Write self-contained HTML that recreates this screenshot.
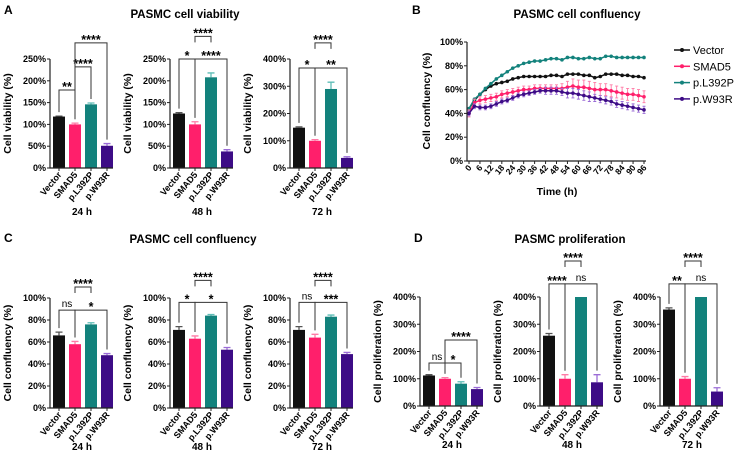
<!DOCTYPE html>
<html><head><meta charset="utf-8"><style>
html,body{margin:0;padding:0;background:#fff;}
svg{display:block;font-family:"Liberation Sans",Arial,sans-serif;}
</style></head><body>
<svg id="fig" width="735" height="454" viewBox="0 0 735 454" xmlns="http://www.w3.org/2000/svg">
<text x="4" y="14" font-size="12" font-weight="bold">A</text>
<text x="185" y="18" font-size="11.5" font-weight="bold" text-anchor="middle">PASMC cell viability</text>
<text x="412" y="14" font-size="12" font-weight="bold">B</text>
<text x="577" y="18" font-size="11.5" font-weight="bold" text-anchor="middle">PASMC cell confluency</text>
<text x="4" y="242" font-size="12" font-weight="bold">C</text>
<text x="193" y="243" font-size="11.5" font-weight="bold" text-anchor="middle">PASMC cell confluency</text>
<text x="414" y="242" font-size="12" font-weight="bold">D</text>
<text x="570" y="243" font-size="11.5" font-weight="bold" text-anchor="middle">PASMC proliferation</text>
</svg>
<script>
const groups = ['Vector','SMAD5','p.L392P','p.W93R'];
const barColors = ['#111111','#ff1f6b','#13827c','#3d0c86'];
const errColors = ['#555555','#ff7aa6','#5fbdb7','#9b6cd6'];

const viability24 = [118,100,146,51];
const viability24Err = [1,3,3,5];
const viability48 = [125,100,208,38];
const viability48Err = [2,6,10,4];
const viability72 = [148,100,290,37];
const viability72Err = [3,4,25,4];
const confluency24 = [66,58,76,48];
const confluency24Err = [3,2.5,1.5,1.5];
const confluency48 = [71,63,84,53];
const confluency48Err = [3,2.5,1,2];
const confluency72 = [71,64,83,49];
const confluency72Err = [3,3,1.5,1.5];
const prolif24 = [112,100,82,62];
const prolif24Err = [3,4,7,6];
const prolif48 = [258,100,400,87];
const prolif48Err = [8,15,0,28];
const prolif72 = [354,100,400,53];
const prolif72Err = [6,8,0,14];

const ticks250 = [0,50,100,150,200,250];
const ticks400 = [0,100,200,300,400];
const ticks100 = [0,20,40,60,80,100];

// brackets: [from, to, level value, label, short]
const sigA24 = [[0,1,179,'**',0],[1,2,232,'****',0],[1,3,287,'****',0]];
const sigA48 = [[0,1,250,'*',0],[1,3,250,'****',0],[1,2,302,'****',1]];
const sigA72 = [[0,1,367,'*',0],[1,3,367,'**',0],[1,2,459,'****',1]];
const sigC24 = [[0,1,89,'ns',0],[1,3,89,'*',0],[1,2,110,'****',1]];
const sigC48 = [[0,1,96,'*',0],[1,3,96,'*',0],[1,2,116,'****',1]];
const sigC72 = [[0,1,96,'ns',0],[1,3,96,'***',0],[1,2,116,'****',1]];
const sigD24 = [[0,1,158,'ns',0],[1,2,158,'*',0],[1,3,242,'****',0]];
const sigD48 = [[0,1,448,'****',0],[1,3,448,'ns',0],[1,2,532,'****',1]];
const sigD72 = [[0,1,448,'**',0],[1,3,448,'ns',0],[1,2,532,'****',1]];

// Panel B time series
const times = [0,3,6,9,12,15,18,21,24,27,30,33,36,39,42,45,48,51,54,57,60,63,66,69,72,75,78,81,84,87,90,93,96];
const vectorSeries = [44,51,56,60,63,65,66,67,69,70,71,71,71,71,71,72,72,71,73,73,73,72,72,70,71,73,73,73,72,72,71,71,70];
const l392pSeries = [44,52,56,61,65,69,72,75,78,80,82,83,84,84,85,86,86,85,87,87,86,86,87,86,86,88,88,87,87,87,87,87,87];
const smad5Series = [40,49,51,52,53,54,56,57,58,59,60,60,61,61,61,61,61,61,62,63,62,62,61,60,60,60,59,58,57,56,56,55,54];
const w93rSeries = [40,46,45,45,46,48,50,51,53,55,56,57,58,59,59,59,59,58,57,57,56,55,54,53,52,51,50,48,47,46,45,44,43];
const smad5Err = [3,3,3,3,3,3,3,3,3,3,3,3,3,3,3,3,3,4,5,6,6,6,6,6,5,5,5,5,5,5,5,5,5];
const w93rErr = [2,2,2,2,2,2,2,2,2,2,2,2,2,2,3,3,3,3,4,4,4,4,4,3,3,3,3,3,3,3,3,3,3];
const timeTicks = [0,6,12,18,24,30,36,42,48,54,60,66,72,78,84,90,96];
const confTicks = [0,20,40,60,80,100];
const legendLabels = ['Vector','SMAD5','p.L392P','p.W93R'];

const svg = document.getElementById('fig');
const NS = 'http://www.w3.org/2000/svg';
function mk(tag, attrs, parent){
  const e = document.createElementNS(NS, tag);
  for (const k in attrs) e.setAttribute(k, attrs[k]);
  (parent||svg).appendChild(e);
  return e;
}

function barChart(id, ax, yTop, yBot, ymax, ticks, vals, errs, sig, yTitle, timeLabel, timeY){
  const g = mk('g', {});
  
  
  const yScale = v => yBot - v / ymax * (yBot - yTop);
  const xScale = i => ax + 9 + i * 16;
  const axEnd = ax + 63;
  vals.forEach((v, i) => {
    const cx = xScale(i);
    const top = yScale(v);
    if (errs[i] > 0) {
      const ey = yScale(v + errs[i]);
      const el = mk('path', {d:`M${cx},${top}V${ey}M${cx-3.5},${ey}H${cx+3.5}`, stroke:errColors[i], 'stroke-width':1.3, fill:'none'}, g);
      
      
    }
    const r = mk('rect', {x:cx-6, y:top, width:12, height:yBot-top, fill:barColors[i]}, g);
    
    
    mk('line', {x1:cx, x2:cx, y1:yBot, y2:yBot+3, stroke:'#222', 'stroke-width':1}, g);
    const t = mk('text', {x:cx+3, y:yBot+7, 'font-size':9, 'font-weight':'bold', 'text-anchor':'end', transform:`rotate(-50 ${cx+3} ${yBot+7})`}, g);
    t.textContent = groups[i];
    
    
  });
  const axes = mk('path', {d:`M${ax},${yTop}V${yBot}H${axEnd}`, stroke:'#222', 'stroke-width':1.2, fill:'none'}, g);
  
  
  ticks.forEach(t => {
    const y = yScale(t);
    mk('line', {x1:ax-3, x2:ax, y1:y, y2:y, stroke:'#222', 'stroke-width':1}, g);
    const tx = mk('text', {x:ax-4, y:y+3, 'font-size':9, 'font-weight':'bold', 'text-anchor':'end'}, g);
    tx.textContent = t + '%';
    
    
  });
  const mid = (yTop + yBot) / 2;
  const yt = mk('text', {x:ax-39, y:mid, 'font-size':10.5, 'font-weight':'bold', 'text-anchor':'middle', transform:`rotate(-90 ${ax-39} ${mid})`}, g);
  yt.textContent = yTitle;
  
  
  const tl = mk('text', {x:ax+32, y:timeY, 'font-size':10, 'font-weight':'bold', 'text-anchor':'middle'}, g);
  tl.textContent = timeLabel;
  
  
  sig.forEach(s => {
    const [a, b, lv, lab, short] = s;
    const x1 = xScale(a), x2 = xScale(b), y = yScale(lv);
    const y1 = short ? y + 6 : yScale(vals[a] + errs[a]) - 4;
    const y2 = short ? y + 6 : yScale(vals[b] + errs[b]) - 4;
    const br = mk('path', {d:`M${x1},${y1}V${y}H${x2}V${y2}`, stroke:'#333', 'stroke-width':1, fill:'none'}, g);
    
    
    const ns = lab === 'ns';
    const lt = mk('text', {x:(x1+x2)/2, y:ns ? y-3 : y+1, 'font-size':ns ? 10 : 12.5, 'font-weight':ns ? 'normal' : 'bold', 'text-anchor':'middle'}, g);
    lt.textContent = lab;
    
    
  });
}

barChart('a-24h', 50, 59, 168, 250, ticks250, viability24, viability24Err, sigA24, 'Cell viability (%)', '24 h', 215);
barChart('a-48h', 170, 59, 168, 250, ticks250, viability48, viability48Err, sigA48, 'Cell viability (%)', '48 h', 215);
barChart('a-72h', 290, 59, 168, 400, ticks400, viability72, viability72Err, sigA72, 'Cell viability (%)', '72 h', 215);
barChart('c-24h', 50, 298, 408, 100, ticks100, confluency24, confluency24Err, sigC24, 'Cell confluency (%)', '24 h', 450);
barChart('c-48h', 170, 298, 408, 100, ticks100, confluency48, confluency48Err, sigC48, 'Cell confluency (%)', '48 h', 450);
barChart('c-72h', 290, 298, 408, 100, ticks100, confluency72, confluency72Err, sigC72, 'Cell confluency (%)', '72 h', 450);
barChart('d-24h', 420, 297, 406, 400, ticks400, prolif24, prolif24Err, sigD24, 'Cell proliferation (%)', '24 h', 448);
barChart('d-48h', 540, 297, 406, 400, ticks400, prolif48, prolif48Err, sigD48, 'Cell proliferation (%)', '48 h', 448);
barChart('d-72h', 660, 297, 406, 400, ticks400, prolif72, prolif72Err, sigD72, 'Cell proliferation (%)', '72 h', 448);

(function(){
  const g = mk('g', {});
  
  
  const x0 = 469, x1 = 644, yT = 42, yB = 161, ax = 467;
  const xs = t => x0 + t / 96 * (x1 - x0);
  const ys = v => yB - v / 100 * (yB - yT);
  const series = [
    [vectorSeries, null, 0, 'vector'],
    [l392pSeries, null, 2, 'l392p'],
    [smad5Series, smad5Err, 1, 'smad5'],
    [w93rSeries, w93rErr, 3, 'w93r']
  ];
  series.forEach(([vals, errs, ci, nm]) => {
    if (errs) {
      let d = '';
      vals.forEach((v, i) => {
        const x = xs(times[i]);
        const a = ys(v + errs[i]), b = ys(v - errs[i]);
        d += `M${x},${a}V${b}M${x-1.5},${a}H${x+1.5}M${x-1.5},${b}H${x+1.5}`;
      });
      const e = mk('path', {d, stroke:errColors[ci], 'stroke-width':0.9, fill:'none'}, g);
      
      
    }
    const pts = vals.map((v, i) => xs(times[i]) + ',' + ys(v)).join(' ');
    const l = mk('polyline', {points:pts, stroke:barColors[ci], 'stroke-width':1.5, fill:'none'}, g);
    
    
    vals.forEach((v, i) => {
      const c = mk('circle', {cx:xs(times[i]), cy:ys(v), r:1.8, fill:barColors[ci]}, g);
      
      
    });
  });
  const axes = mk('path', {d:`M${ax},${yT}V${yB}H${x1+2}`, stroke:'#222', 'stroke-width':1.2, fill:'none'}, g);
  
  
  confTicks.forEach(t => {
    const y = ys(t);
    mk('line', {x1:ax-3, x2:ax, y1:y, y2:y, stroke:'#222'}, g);
    const tx = mk('text', {x:ax-4, y:y+3, 'font-size':9, 'font-weight':'bold', 'text-anchor':'end'}, g);
    tx.textContent = t + '%';
    
    
  });
  timeTicks.forEach(t => {
    const x = xs(t);
    mk('line', {x1:x, x2:x, y1:yB, y2:yB+3, stroke:'#222'}, g);
    const tx = mk('text', {x:x+3, y:yB+7, 'font-size':8.5, 'font-weight':'bold', 'text-anchor':'end', transform:`rotate(-50 ${x+3} ${yB+7})`}, g);
    tx.textContent = t;
    
    
  });
  const xt = mk('text', {x:557, y:195, 'font-size':10.5, 'font-weight':'bold', 'text-anchor':'middle'}, g);
  xt.textContent = 'Time (h)';
  
  
  const yt = mk('text', {x:430, y:101, 'font-size':10.5, 'font-weight':'bold', 'text-anchor':'middle', transform:'rotate(-90 430 101)'}, g);
  yt.textContent = 'Cell confluency (%)';
  
  
  legendLabels.forEach((lab, i) => {
    const y = 50 + i * 16.3;
    const lg = mk('g', {}, g);
    
    
    mk('line', {x1:674, x2:690, y1:y, y2:y, stroke:barColors[i], 'stroke-width':1.5}, lg);
    mk('circle', {cx:682, cy:y, r:2, fill:barColors[i]}, lg);
    const t = mk('text', {x:693, y:y+4, 'font-size':11}, lg);
    t.textContent = lab;
  });
})();
</script>
</body></html>
